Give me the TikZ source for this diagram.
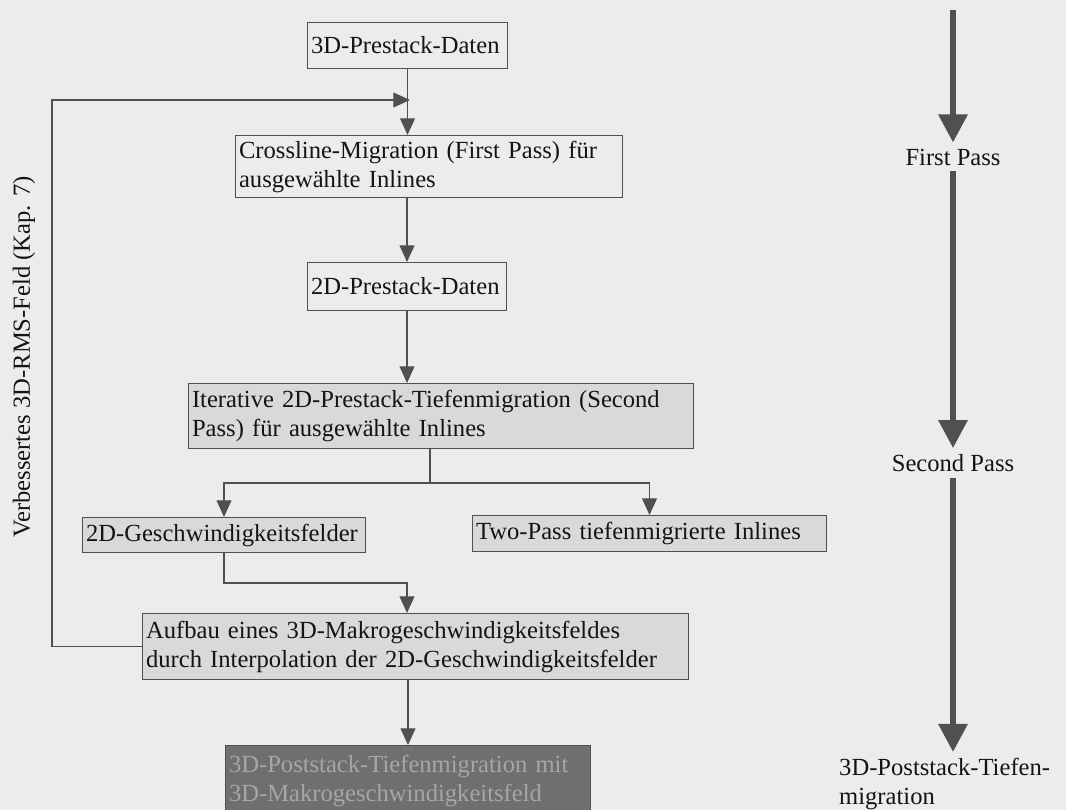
\documentclass[tikz,border=0pt]{standalone}
\usepackage{fontspec}
\setmainfont{Liberation Serif}
\usepackage{tikz}
\usetikzlibrary{arrows.meta}
\usetikzlibrary{positioning}
\definecolor{paper}{HTML}{ECECEC}
\definecolor{lbox}{HTML}{D9D9D9}
\definecolor{dbox}{HTML}{6F6F6F}
\definecolor{dtext}{HTML}{A6A6A6}
\definecolor{ink}{HTML}{141414}
\definecolor{wire}{HTML}{505050}
\tikzset{stepbox/.style = {draw=wire, line width=0.6pt, inner sep=2pt, align=left,
                           anchor=north west, text=ink, font=\fontsize{14}{16.5}\selectfont},
         greybox/.style = {stepbox, fill=lbox},
         flow/.style = {draw=wire, line width=0.6pt, -{Triangle[width=8.5pt, length=9.5pt]}},
         wireline/.style = {draw=wire, line width=0.6pt},
         passarrow/.style = {draw=wire, line width=3.4pt, -{Triangle[width=16pt, length=16pt]}},
         passlabel/.style = {text=ink, font=\fontsize{14}{16.5}\selectfont}}

\begin{document}
\begin{tikzpicture}[x=0.02cm, y=-0.02cm]
    \useasboundingbox [fill=paper] (0, 0) rectangle (1066, 810);

    % main column
    \node [stepbox, text width=3.86cm, minimum height=0.92cm] (pre3d) at (307, 22) {3D-Prestack-Daten};
    \node [stepbox, text width=7.6cm, minimum height=1.24cm] (cross) at (235, 135)
        {Crossline-Migration (First Pass) für\\ausgewählte Inlines};
    \node [stepbox, text width=3.84cm, minimum height=0.96cm] (pre2d) at (307, 262) {2D-Prestack-Daten};
    \node [greybox, text width=9.96cm, minimum height=1.3cm] (iter) at (188, 383)
        {Iterative 2D-Prestack-Tiefenmigration (Second\\Pass) für ausgewählte Inlines};
    \node [greybox, text width=5.52cm, minimum height=0.7cm] (vel2d) at (82, 517) {2D-Geschwindigkeitsfelder};
    \node [greybox, text width=6.94cm, minimum height=0.72cm] (twopass) at (472, 515) {Two-Pass tiefenmigrierte Inlines};
    \node [greybox, text width=10.78cm, minimum height=1.32cm] (macro) at (142, 613)
        {Aufbau eines 3D-Makrogeschwindigkeitsfeldes\\durch Interpolation der 2D-Geschwindigkeitsfelder};
    \node [stepbox, fill=dbox, text=dtext, text width=7.16cm, minimum height=1.4cm] (post) at (225, 745)
        {3D-Poststack-Tiefenmigration mit\\3D-Makrogeschwindigkeitsfeld};

    % feedback label
    \node [passlabel, rotate=90] (rms) at (24, 357) {Verbessertes 3D-RMS-Feld (Kap. 7)};

    \coordinate (loop) at (410, 100);
    \coordinate (split) at (430, 483);
    \coordinate (merge) at (407, 583);

    \draw [flow] (pre3d.south) -- (pre3d.south |- cross.north);
    \draw [flow] (macro.west) -- ++(-90, 0) |- (loop);
    \draw [flow] (pre2d.north |- cross.south) -- (pre2d.north);
    \draw [flow] (pre2d.south) -- (pre2d.south |- iter.north);
    \draw [wireline] (split |- iter.south) -- (split);
    \draw [flow] (split) -| (vel2d.north);
    \draw [flow] (split) -| (twopass.north);
    \draw [flow] (vel2d.south) |- (merge) -- (merge |- macro.north);
    \draw [flow] (macro.south -| post.north) -- (post.north);

    % passes on the right
    \node [passlabel] (first) at (953, 157) {First Pass};
    \node [passlabel] (second) at (953, 463) {Second Pass};
    \node [passlabel, align=left, anchor=north west] (last) at (833, 752) {3D-Poststack-Tiefen-\\migration};
    \coordinate (top) at (953, 10);
    \draw [passarrow] (top) -- (first.north);
    \draw [passarrow] (first.south) -- (second.north);
    \draw [passarrow] (second.south) -- (second.south |- last.north);
\end{tikzpicture}
\end{document}
